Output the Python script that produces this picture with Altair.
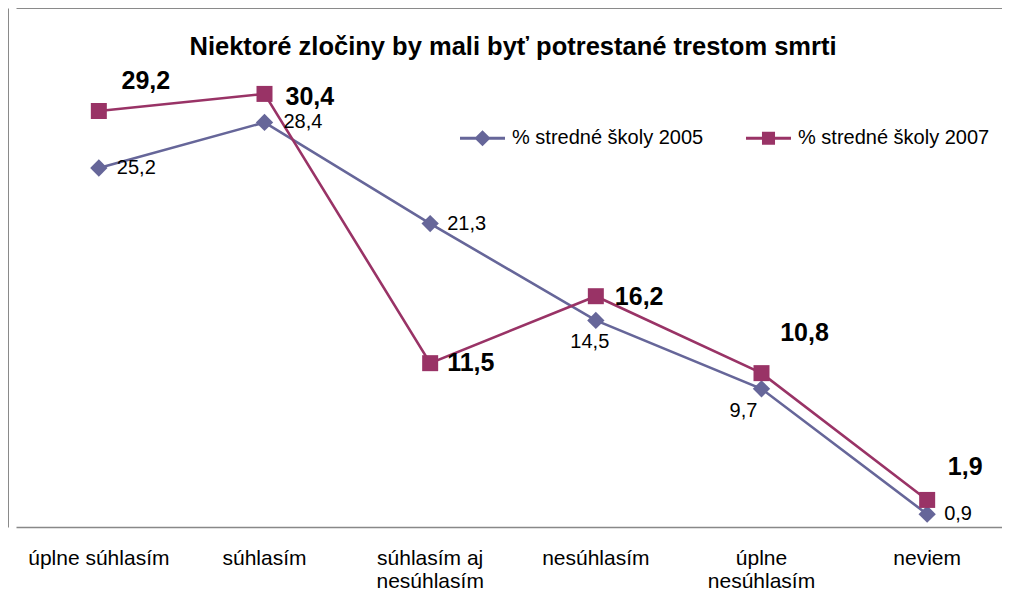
import json
import altair as alt
import pandas as pd

# ---- data ----
CATEGORIES = ["úplne súhlasím", "súhlasím", "súhlasím aj nesúhlasím",
              "nesúhlasím", "úplne nesúhlasím", "neviem"]
X_LABEL_LINES = [["úplne súhlasím"], ["súhlasím"], ["súhlasím aj", "nesúhlasím"],
                 ["nesúhlasím"], ["úplne", "nesúhlasím"], ["neviem"]]
SERIES = ["% stredné školy 2005", "% stredné školy 2007"]
S2005 = [25.2, 28.4, 21.3, 14.5, 9.7, 0.9]
S2007 = [29.2, 30.4, 11.5, 16.2, 10.8, 1.9]
TITLE = "Niektoré zločiny by mali byť potrestané trestom smrti"

COLORS = ["#666699", "#993366"]
FONT = "Liberation Sans"

rows = []
for s, vals in zip(SERIES, [S2005, S2007]):
    for c, v in zip(CATEGORIES, vals):
        rows.append({"category": c, "series": s, "value": v,
                     "label": f"{v:.1f}".replace(".", ",")})
df = pd.DataFrame(rows)

W, H = 994, 519
YMAX = 36.43
xscale = alt.Scale(type="band", domain=CATEGORIES, range=[8, 1002],
                   paddingInner=0, paddingOuter=0)
yscale = alt.Scale(domain=[0, YMAX], nice=False, zero=False)

expr = "datum.label"
for c, lines in zip(CATEGORIES, X_LABEL_LINES):
    if len(lines) > 1:
        expr = f"datum.label == {json.dumps(c, ensure_ascii=False)} ? {json.dumps(lines, ensure_ascii=False)} : ({expr})"

X = alt.X("category:N", scale=xscale,
          axis=alt.Axis(title=None, orient="bottom", domain=True, domainColor="#888888",
                        domainWidth=1.5, ticks=False, labelAngle=0, labelFont=FONT,
                        labelFontSize=21, labelColor="#000000", labelPadding=20,
                        labelBaseline="top", labelLineHeight=23, labelExpr=expr,
                        grid=False))
Y = alt.Y("value:Q", scale=yscale,
          axis=alt.Axis(title=None, orient="left", domain=True, domainColor="#8a8a8a",
                        domainWidth=1, ticks=False, labels=False, grid=True,
                        gridColor="#8a8a8a", gridWidth=1, values=[YMAX]))

base = alt.Chart(df)

color_nolegend = alt.Color("series:N", scale=alt.Scale(domain=SERIES, range=COLORS), legend=None)

lines = base.mark_line(strokeWidth=2.6).encode(x=X, y=Y, color=color_nolegend)

pts05 = base.mark_point(filled=True, opacity=1, size=300, shape="diamond").encode(
    x=X, y=Y, color=color_nolegend).transform_filter(alt.datum.series == SERIES[0])
pts07 = base.mark_point(filled=True, opacity=1, size=256, shape="square").encode(
    x=X, y=Y, color=color_nolegend).transform_filter(alt.datum.series == SERIES[1])

# legend: symbols drawn as a line with its marker
LEG_PATHS = [
    "M-1,-0.07L1,-0.07L1,0.07L-1,0.07Z M0,-0.36L0.36,0L0,0.36L-0.36,0Z",
    "M-1,-0.07L1,-0.07L1,0.07L-1,0.07Z M-0.29,-0.29L0.29,-0.29L0.29,0.29L-0.29,0.29Z",
]
legend = alt.Legend(orient="none", legendX=452, legendY=107.5, direction="horizontal",
                    title=None, symbolSize=2025, symbolStrokeWidth=0, symbolOpacity=1,
                    labelFont=FONT, labelFontSize=20, labelColor="#000000",
                    labelOffset=7, columnPadding=42, padding=0, labelLimit=400)
leg_layer = base.mark_point(filled=True, opacity=0, size=10).encode(
    x=X, y=Y,
    fill=alt.Fill("series:N", scale=alt.Scale(range=COLORS), legend=legend),
    shape=alt.Shape("series:N", scale=alt.Scale(range=LEG_PATHS), legend=legend),
)

# label placement (style): align, dx, dy
PLACE = {
    SERIES[0]: {
        "úplne súhlasím": ("left", 18, 0),
        "súhlasím": ("left", 19, 0),
        "súhlasím aj nesúhlasím": ("left", 17, 0),
        "nesúhlasím": ("center", -6, 22),
        "úplne nesúhlasím": ("center", -18, 22),
        "neviem": ("left", 17, 0),
    },
    SERIES[1]: {
        "úplne súhlasím": ("center", 47, -30),
        "súhlasím": ("left", 21, 3),
        "súhlasím aj nesúhlasím": ("left", 17, 0),
        "nesúhlasím": ("left", 19, 1),
        "úplne nesúhlasím": ("center", 43, -40),
        "neviem": ("center", 38, -33),
    },
}
texts = []
for i, s in enumerate(SERIES):
    for c in CATEGORIES:
        align, dx, dy = PLACE[s][c]
        bold = i == 1
        t = base.mark_text(align=align, baseline="middle", dx=dx, dy=dy, font=FONT,
                           fontSize=25 if bold else 20,
                           fontWeight="bold" if bold else "normal",
                           color="#000000").encode(
            x=X, y=Y, text="label:N"
        ).transform_filter((alt.datum.series == s) & (alt.datum.category == c))
        texts.append(t)

chart = alt.layer(lines, pts05, pts07, leg_layer, *texts).properties(
    width=W, height=H,
    title=alt.TitleParams(TITLE, font=FONT, fontSize=25.5, fontWeight="bold", color="#000000",
                          anchor="middle", offset=0, dx=8, dy=72, baseline="alphabetic"),
    autosize=alt.AutoSizeParams(type="none"),
    padding={"left": 0, "top": 0, "right": 0, "bottom": 76},
).configure_view(stroke=None)

chart.save("out.html", embed_options={"renderer": "svg", "actions": False})
